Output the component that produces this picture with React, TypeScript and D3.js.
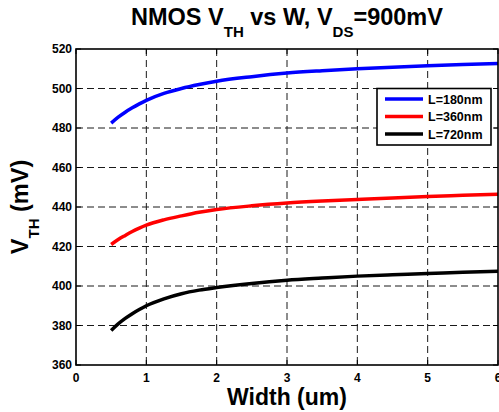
import React from "react";
import * as d3 from "d3";

const widths = [0.5, 0.6, 0.7, 0.8, 0.9, 1.0, 1.25, 1.5, 1.75, 2, 2.5, 3, 3.5, 4, 4.5, 5, 5.5, 6];
const vth180 = [482.5, 485.5, 488, 490.2, 492.2, 494, 497.5, 500, 502, 503.7, 506, 507.8, 509, 510, 510.8, 511.5, 512.1, 512.6];
const vth360 = [421, 423.5, 425.6, 427.6, 429.3, 430.8, 433.5, 435.5, 437.3, 438.7, 440.6, 442, 443, 443.8, 444.6, 445.3, 445.9, 446.5];
const vth720 = [377.5, 380.8, 383.6, 386, 388.1, 390, 393.5, 396.1, 397.9, 399.2, 401.3, 402.9, 404, 405, 405.7, 406.3, 407, 407.5];
const seriesNames = ["L=180nm", "L=360nm", "L=720nm"];
const seriesColors = ["#0000ff", "#ff0000", "#000000"];
const xTicks = [0, 1, 2, 3, 4, 5, 6];
const yTicks = [360, 380, 400, 420, 440, 460, 480, 500, 520];

const W = 499;
const H = 412;
const left = 76;
const right = 498;
const top = 49;
const bottom = 365;

export default function App() {
  const x = d3.scaleLinear().domain([0, 6]).range([left, right]);
  const y = d3.scaleLinear().domain([360, 520]).range([bottom, top]);
  const line = d3
    .line<[number, number]>()
    .x((d) => x(d[0]))
    .y((d) => y(d[1]))
    .curve(d3.curveMonotoneX);
  const series = [vth180, vth360, vth720];
  const font = "'Liberation Sans', Arial, sans-serif";
  const gridColor = "#1a1a1a";

  return (
    <svg
      width={W}
      height={H}
      style={{ position: "absolute", left: 0, top: 0, background: "#fff" }}
      fontFamily={font}
      fontWeight="bold"
    >
      <rect x={0} y={0} width={W} height={H} fill="#fff" />
      {/* grid */}
      {xTicks.slice(1, -1).map((t) => (
        <line key={"gx" + t} x1={x(t)} x2={x(t)} y1={top} y2={bottom} stroke={gridColor} strokeWidth={1} strokeDasharray="7,4" />
      ))}
      {yTicks.slice(1, -1).map((t) => (
        <line key={"gy" + t} x1={left} x2={right} y1={y(t)} y2={y(t)} stroke={gridColor} strokeWidth={1} strokeDasharray="7,4" />
      ))}
      {/* ticks */}
      {xTicks.map((t) => (
        <g key={"tx" + t}>
          <line x1={x(t)} x2={x(t)} y1={bottom} y2={bottom - 5} stroke="#000" strokeWidth={1} />
          <line x1={x(t)} x2={x(t)} y1={top} y2={top + 5} stroke="#000" strokeWidth={1} />
        </g>
      ))}
      {yTicks.map((t) => (
        <g key={"ty" + t}>
          <line x1={left} x2={left + 5} y1={y(t)} y2={y(t)} stroke="#000" strokeWidth={1} />
          <line x1={right} x2={right - 5} y1={y(t)} y2={y(t)} stroke="#000" strokeWidth={1} />
        </g>
      ))}
      {/* curves */}
      {series.map((s, i) => (
        <path
          key={"s" + i}
          d={line(widths.map((w, j) => [w, s[j]] as [number, number])) || ""}
          fill="none"
          stroke={seriesColors[i]}
          strokeWidth={3.5}
        />
      ))}
      {/* box */}
      <rect x={left} y={top} width={right - left} height={bottom - top} fill="none" stroke="#000" strokeWidth={1.6} />
      {/* tick labels */}
      {xTicks.map((t) => (
        <text key={"lx" + t} x={x(t)} y={bottom + 17} fontSize={12} textAnchor="middle">
          {t}
        </text>
      ))}
      {yTicks.map((t) => (
        <text key={"ly" + t} x={left - 4} y={y(t)} dy="0.36em" fontSize={12} textAnchor="end">
          {t}
        </text>
      ))}
      {/* title */}
      <text x={(left + right) / 2} y={25} fontSize={23.5} textAnchor="middle">
        NMOS V<tspan dy={12} fontSize={15}>TH</tspan>
        <tspan dy={-12}> vs W, V</tspan>
        <tspan dy={12} fontSize={15}>DS</tspan>
        <tspan dy={-12}>=900mV</tspan>
      </text>
      {/* x label */}
      <text x={(left + right) / 2} y={405} fontSize={23} textAnchor="middle">
        Width (um)
      </text>
      {/* y label */}
      <text transform={`translate(28,${(top + bottom) / 2}) rotate(-90)`} fontSize={23.5} textAnchor="middle">
        V<tspan dy={11} fontSize={15}>TH</tspan>
        <tspan dy={-11}> (mV)</tspan>
      </text>
      {/* legend */}
      <g>
        <rect x={377} y={88.5} width={114} height={56.5} fill="#fff" stroke="#000" strokeWidth={1.6} />
        {seriesNames.map((n, i) => {
          const ly = 99 + i * 17.5;
          return (
            <g key={"lg" + i}>
              <line x1={385} x2={423} y1={ly} y2={ly} stroke={seriesColors[i]} strokeWidth={3.5} />
              <text x={428} y={ly} dy="0.36em" fontSize={12.5}>
                {n}
              </text>
            </g>
          );
        })}
      </g>
    </svg>
  );
}
